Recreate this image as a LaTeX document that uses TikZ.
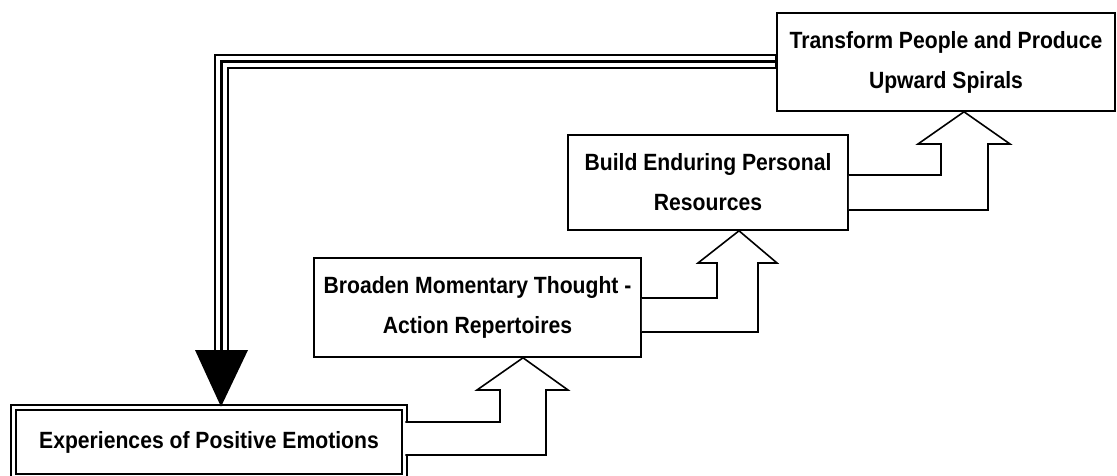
\documentclass[tikz,border=0pt]{standalone}
\usepackage{fontspec}
\setmainfont{Liberation Sans}[FakeStretch=0.9]
\usetikzlibrary{calc}

\begin{document}
\begin{tikzpicture}[x=1pt, y=-1pt,
    stage/.style={draw, line width=1.6pt, inner sep=0pt, align=center,
      font=\fontsize{23.5}{40}\selectfont\bfseries},
    blockarrow/.style={draw, line width=1.6pt, fill=white, line join=miter},
    loopline/.style={line width=#1, line join=miter}]
      \useasboundingbox (0,0) rectangle (1117,476);

      % The four stages
      \node[stage, double, double distance=3.2pt, minimum width=391pt, minimum height=69pt]
        (emo) at (209,442) {Experiences of Positive Emotions};
      \node[stage, minimum width=327pt, minimum height=99pt]
        (bro) at (477.5,307.5) {Broaden Momentary Thought -\\Action Repertoires};
      \node[stage, minimum width=280pt, minimum height=95pt]
        (bld) at (708,182.5) {Build Enduring Personal\\Resources};
      \node[stage, minimum width=338pt, minimum height=98pt]
        (trn) at (946,62) {Transform People and Produce\\Upward Spirals};

      % Hollow arrows from one stage up to the next
      \draw[blockarrow] (emo.east |- 0,422) -| (500,390) -- (477,390)
        -- (bro.south -| 523,0) -- (568,390) -- (546,390) |- (emo.east |- 0,455);
      \draw[blockarrow] (bro.east |- 0,298) -| (717,263) -- (698,263)
        -- (bld.south -| 739,0) -- (777,263) -- (758,263) |- (bro.east |- 0,332);
      \draw[blockarrow] (bld.east |- 0,175) -| (941,144) -- (918,144)
        -- (trn.south -| 964,0) -- (1010,144) -- (988,144) |- (bld.east |- 0,210);

      % Feedback line back to the first stage
      \coordinate (turn) at (221,62);
      \coordinate (head) at (221,350);
      \draw[loopline=15pt] (trn.west |- turn) -- (turn) -- (head);
      \draw[loopline=11pt, white] ($(trn.west |- turn)+(-1,0)$) -- (turn) -- (head);
      \draw[loopline=3pt] (trn.west |- turn) -- (turn) -- (head);
      \fill (195,350) -- (248,350) -- (emo.north -| 221,0) -- cycle;
\end{tikzpicture}
\end{document}
